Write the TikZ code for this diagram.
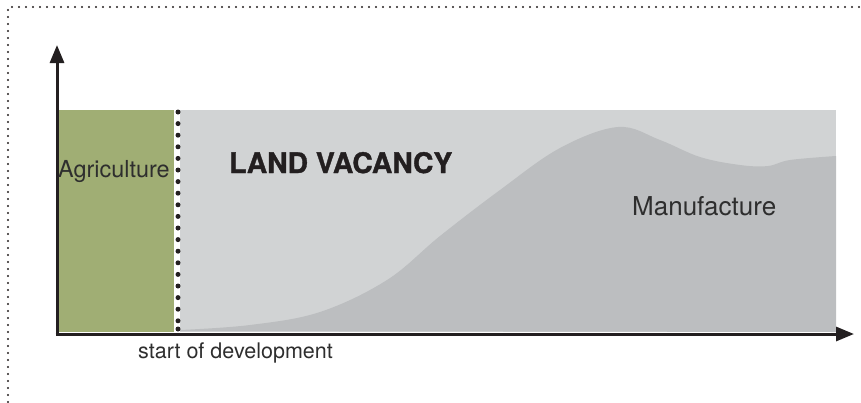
\documentclass[tikz,border=0pt]{standalone}
\usepackage{fontspec}
\setmainfont{TeX Gyre Heros}
\newfontfamily\blackfont[FakeBold=1.2]{texgyreheros-bold.otf}
\usetikzlibrary{arrows.meta}
\definecolor{farmgreen}{HTML}{A0AE74}
\definecolor{vacantgray}{HTML}{D1D3D4}
\definecolor{factorygray}{HTML}{BCBEC0}
\definecolor{inkdark}{HTML}{231F20}
\definecolor{textgray}{HTML}{2E2E2E}
\begin{document}
\begin{tikzpicture}[x=1pt, y=-1pt,
        axis/.style={draw=inkdark, line width=3pt, -{Triangle[length=18pt, width=14pt]}},
        tag/.style={inner sep=0pt, anchor=base west, text=textgray}]
    \useasboundingbox (0,0) rectangle (861,402);
    % frame
    \draw[inkdark, line width=2.3pt, line cap=round, dash pattern=on 0pt off 7pt] (8,402) -- (8,7) -- (861,7);
    % areas
    \fill[farmgreen] (58,110) rectangle (174,332);
    \fill[vacantgray] (180,110) rectangle (836,332);
    \fill[factorygray] (180,331) -- plot[smooth, tension=0.6] coordinates {(180,330) (250,325) (320,312) (387,280) (440,236) (500,190) (560,148) (618,127) (660,140) (700,157) (740,165) (768,166) (790,160) (836,156)} -- (836,332) -- cycle;
    % start line
    \draw[inkdark, line width=5pt, line cap=round, dash pattern=on 0pt off 11.6pt] (178,112) -- (178,322);
    \fill[inkdark] (178,329) circle (2.5pt);
    % axes
    \coordinate (origin) at (57,334);
    \coordinate (ytip) at (57,45);
    \coordinate (xtip) at (854,334);
    \draw[axis] ([yshift=-1.5pt]origin) -- (ytip);
    \draw[axis] ([xshift=-1.5pt]origin) -- (xtip);
    % labels
    \node[tag, font=\fontsize{23.4}{28}\selectfont] (agri) at (58,177) {Agriculture};
    \node[tag, text=inkdark, font=\fontsize{28.3}{34}\blackfont] (vacancy) at (229,173) {LAND VACANCY};
    \node[tag, font=\fontsize{26}{31}\selectfont] (manu) at (632,215) {Manufacture};
    \node[tag, font=\fontsize{21.5}{26}\selectfont] (start) at (138,358) {start of development};
\end{tikzpicture}
\end{document}
